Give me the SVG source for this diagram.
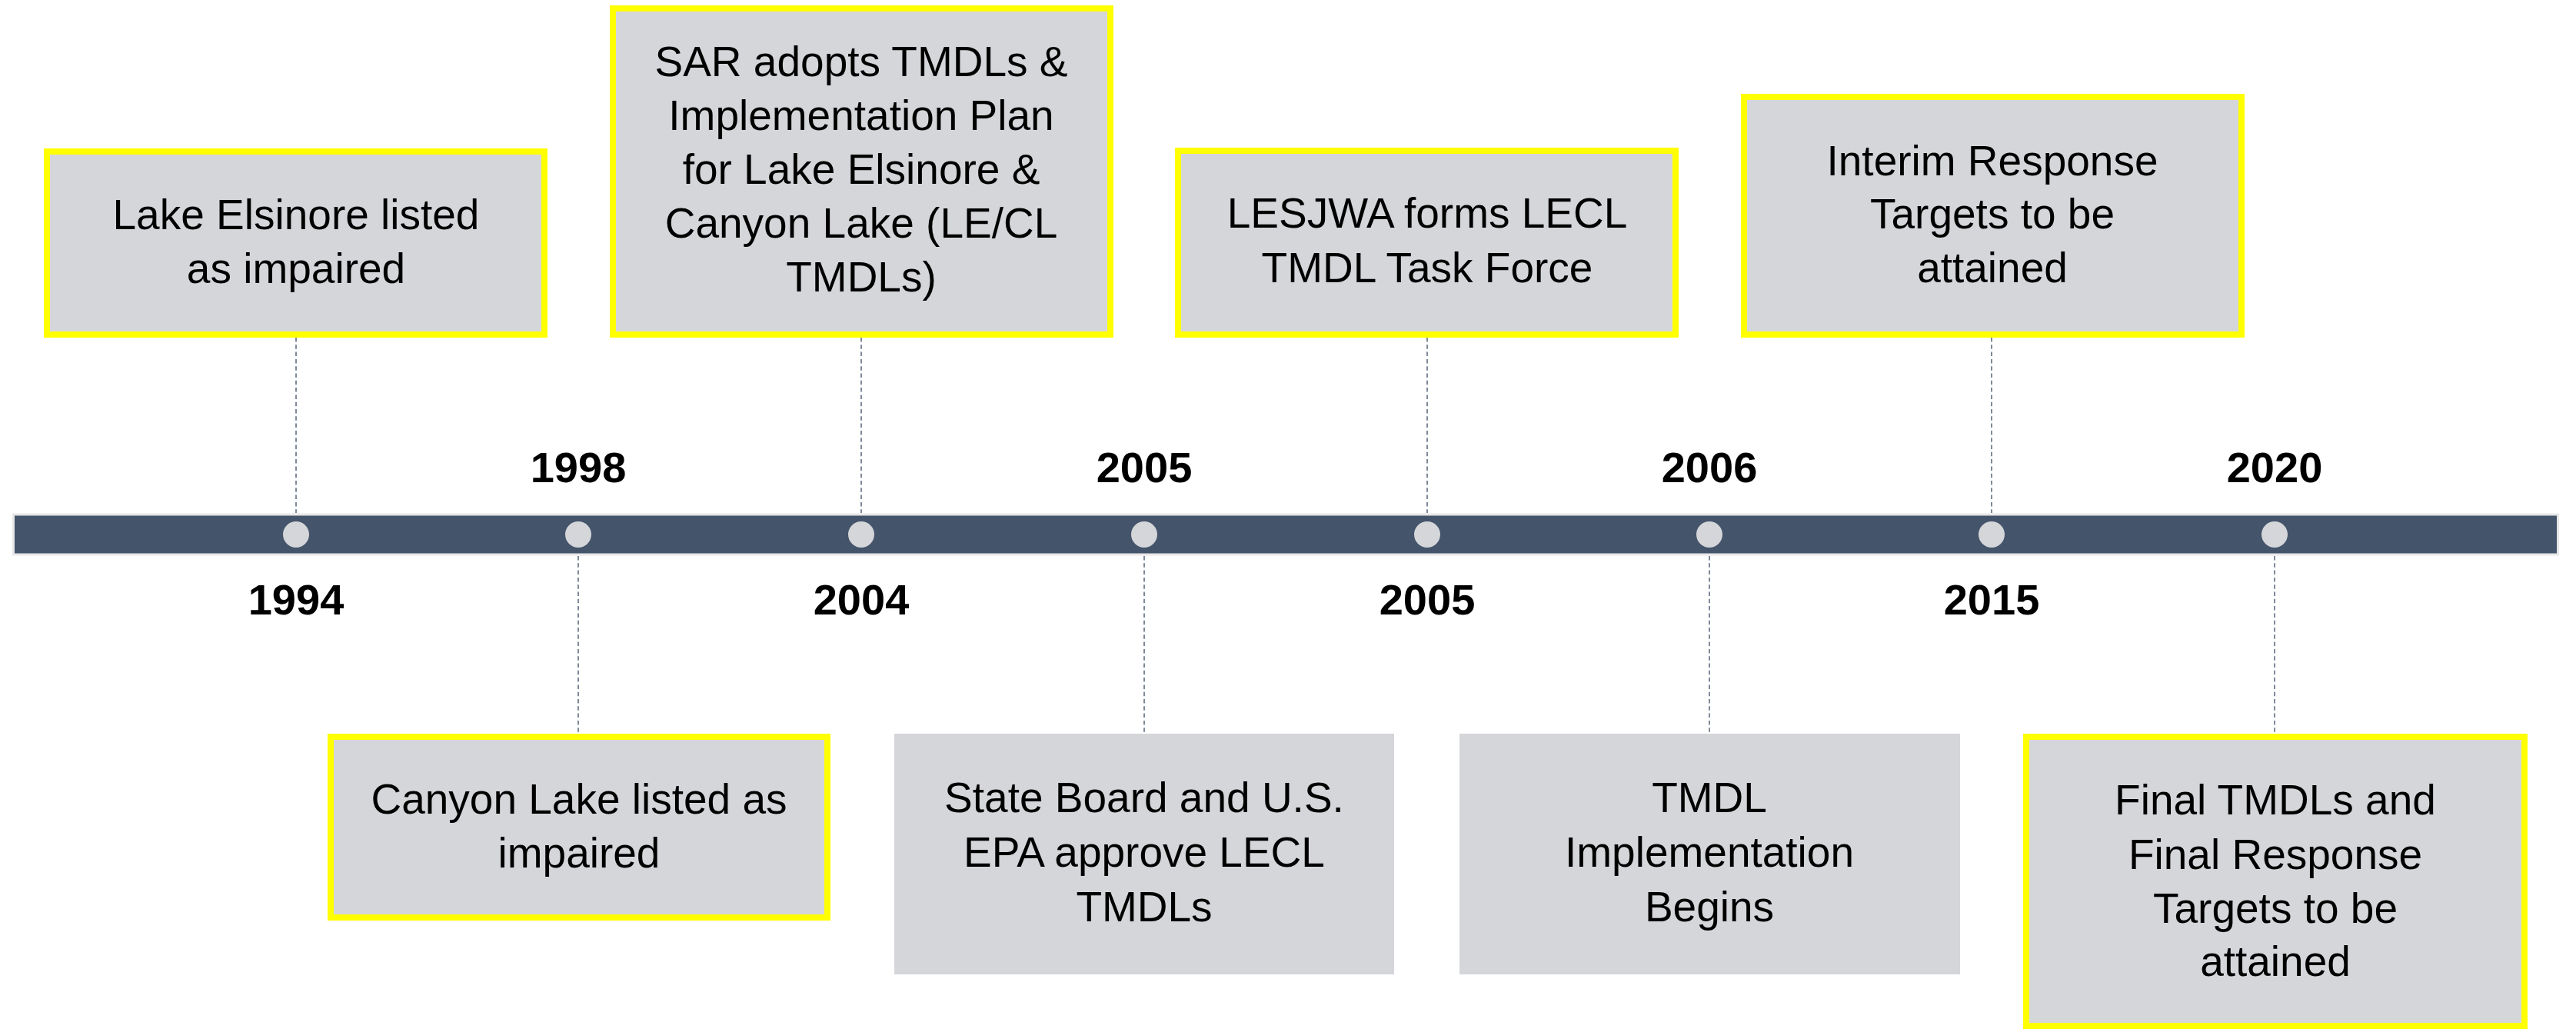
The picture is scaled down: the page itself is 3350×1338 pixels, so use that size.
<svg xmlns="http://www.w3.org/2000/svg" width="3350" height="1338" viewBox="0 0 3350 1338">
<style>
.box{fill:#D5D6DA;}
.hl{stroke:#FFFF00;stroke-width:8;}
.t{font-family:"Liberation Sans",Arial,sans-serif;font-size:55px;fill:#000;text-anchor:middle;}
.yr{font-family:"Liberation Sans",Arial,sans-serif;font-size:56px;font-weight:bold;fill:#000;text-anchor:middle;}
.dash{stroke:#7F8A99;stroke-width:2;stroke-dasharray:5.5 3.8;fill:none;}
.dot{fill:#D5D6DA;}
</style>
<rect width="3350" height="1338" fill="#FFFFFF"/>
<g id="connectors">
<line class="dash" x1="385" y1="439" x2="385" y2="667"/>
<line class="dash" x1="752" y1="723" x2="752" y2="954"/>
<line class="dash" x1="1120" y1="439" x2="1120" y2="667"/>
<line class="dash" x1="1488" y1="723" x2="1488" y2="954"/>
<line class="dash" x1="1856" y1="439" x2="1856" y2="667"/>
<line class="dash" x1="2223" y1="723" x2="2223" y2="954"/>
<line class="dash" x1="2590" y1="439" x2="2590" y2="667"/>
<line class="dash" x1="2958" y1="723" x2="2958" y2="954"/>
</g>
<g id="timeline">
<rect x="17.5" y="669" width="3309" height="52" fill="#44546A" stroke="#E7E7E7" stroke-width="3"/>
<circle class="dot" cx="385" cy="695" r="17"/>
<circle class="dot" cx="752" cy="695" r="17"/>
<circle class="dot" cx="1120" cy="695" r="17"/>
<circle class="dot" cx="1488" cy="695" r="17"/>
<circle class="dot" cx="1856" cy="695" r="17"/>
<circle class="dot" cx="2223" cy="695" r="17"/>
<circle class="dot" cx="2590" cy="695" r="17"/>
<circle class="dot" cx="2958" cy="695" r="17"/>
</g>
<g id="years">
<text class="yr" x="385" y="799">1994</text>
<text class="yr" x="752" y="627">1998</text>
<text class="yr" x="1120" y="799">2004</text>
<text class="yr" x="1488" y="627">2005</text>
<text class="yr" x="1856" y="799">2005</text>
<text class="yr" x="2223" y="627">2006</text>
<text class="yr" x="2590" y="799">2015</text>
<text class="yr" x="2958" y="627">2020</text>
</g>
<g id="n1994">
<rect class="box hl" x="61" y="197" width="647" height="238"/>
<text class="t" x="385" y="298">Lake Elsinore listed</text>
<text class="t" x="385" y="368">as impaired</text>
</g>
<g id="n2004">
<rect class="box hl" x="797" y="11" width="647" height="424"/>
<text class="t" x="1120" y="99">SAR adopts TMDLs &amp;</text>
<text class="t" x="1120" y="169">Implementation Plan</text>
<text class="t" x="1120" y="239">for Lake Elsinore &amp;</text>
<text class="t" x="1120" y="309">Canyon Lake (LE/CL</text>
<text class="t" x="1120" y="379">TMDLs)</text>
</g>
<g id="n2005b">
<rect class="box hl" x="1532" y="196" width="647" height="239"/>
<text class="t" x="1856" y="296">LESJWA forms LECL</text>
<text class="t" x="1856" y="367">TMDL Task Force</text>
</g>
<g id="n2015">
<rect class="box hl" x="2268" y="126" width="647" height="309"/>
<text class="t" x="2591" y="228">Interim Response</text>
<text class="t" x="2591" y="297">Targets to be</text>
<text class="t" x="2591" y="367">attained</text>
</g>
<g id="n1998">
<rect class="box hl" x="430" y="958" width="646" height="235"/>
<text class="t" x="753" y="1058">Canyon Lake listed as</text>
<text class="t" x="753" y="1128">impaired</text>
</g>
<g id="n2005a">
<rect class="box" x="1163" y="954" width="650" height="313"/>
<text class="t" x="1488" y="1056">State Board and U.S.</text>
<text class="t" x="1488" y="1127">EPA approve LECL</text>
<text class="t" x="1488" y="1198">TMDLs</text>
</g>
<g id="n2006">
<rect class="box" x="1898" y="954" width="651" height="313"/>
<text class="t" x="2223" y="1056">TMDL</text>
<text class="t" x="2223" y="1127">Implementation</text>
<text class="t" x="2223" y="1198">Begins</text>
</g>
<g id="n2020">
<rect class="box hl" x="2635" y="958" width="648" height="376"/>
<text class="t" x="2959" y="1059">Final TMDLs and</text>
<text class="t" x="2959" y="1130">Final Response</text>
<text class="t" x="2959" y="1200">Targets to be</text>
<text class="t" x="2959" y="1269">attained</text>
</g>
</svg>
